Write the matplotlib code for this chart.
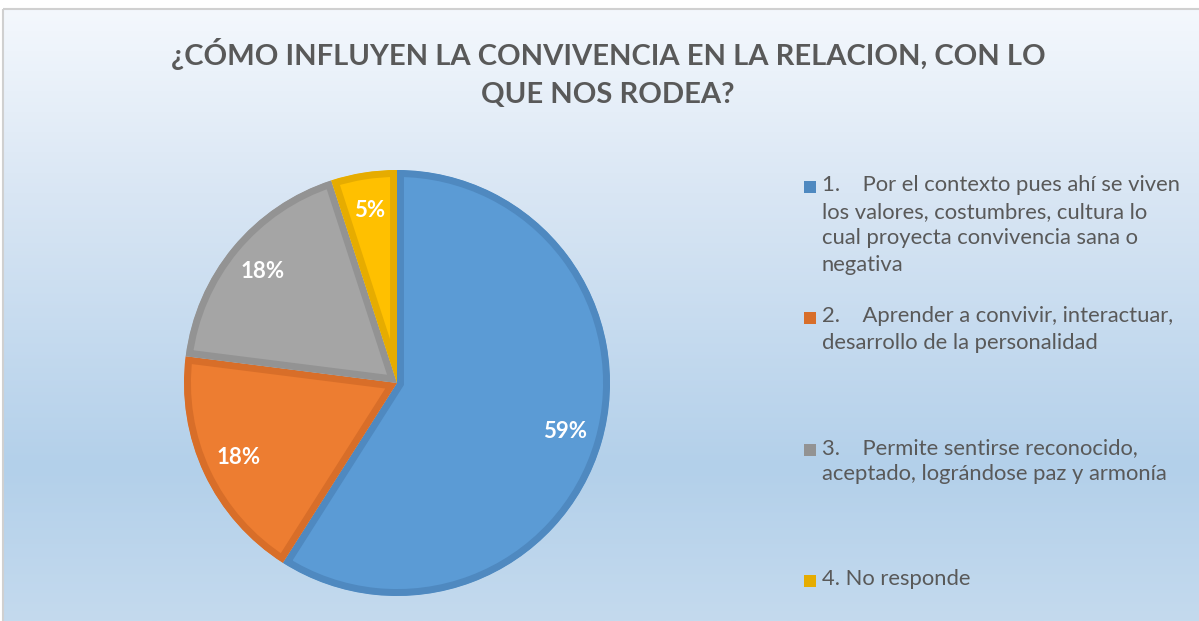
import numpy as np
import matplotlib.pyplot as plt
from matplotlib.colors import LinearSegmentedColormap
from matplotlib.patches import Rectangle

# datos
titulo = '¿CÓMO INFLUYEN LA CONVIVENCIA EN LA RELACION, CON LO\nQUE NOS RODEA?'
etiquetas = ['1.    Por el contexto pues ahí se viven\nlos valores, costumbres, cultura lo\ncual proyecta convivencia sana o\nnegativa',
             '2.    Aprender a convivir, interactuar,\ndesarrollo de la personalidad',
             '3.    Permite sentirse reconocido,\naceptado, lográndose paz y armonía',
             '4. No responde']
valores = [59, 18, 18, 5]
colores = ['#5B9BD5', '#ED7D31', '#A5A5A5', '#FFC000']
bordes = ['#4F89C0', '#D86E29', '#939393', '#E6AC00']

plt.rcParams['font.family'] = ['Lato', 'DejaVu Sans']

fig = plt.figure(figsize=(11.99, 6.21), dpi=100)
fig.patch.set_facecolor('white')

# fondo degradado
bg = fig.add_axes([0, 0, 1, 1], zorder=-10)
cmap = LinearSegmentedColormap.from_list('fondo', [(0.0, '#f4f8fd'), (0.3, '#d9e6f4'),
                                                   (0.75, '#b3d0ea'), (1.0, '#c4daee')])
grad = np.linspace(0, 1, 256).reshape(-1, 1)
bg.imshow(grad, aspect='auto', cmap=cmap, extent=(3, 1199, 621, 9))
bg.set_xlim(0, 1199)
bg.set_ylim(621, 0)
bg.add_patch(Rectangle((2.5, 9), 1300, 700, fill=False, edgecolor='#d0d0d0', linewidth=1.5))
bg.axis('off')

# titulo
fig.text(608 / 1199, 1 - 73 / 621, titulo, ha='center', va='center', fontsize=21,
         fontweight='bold', color='#595959', linespacing=1.6)

# pastel
ax = fig.add_axes([(397 - 213) / 1199, 1 - 596 / 621, 426 / 1199, 426 / 621])
wedges, textos, autotextos = ax.pie(valores, colors=colores, startangle=90, counterclock=False,
                                    radius=1, autopct='%1.0f%%', pctdistance=0.82,
                                    textprops=dict(color='white', fontsize=16, fontweight='bold'))
for w, b in zip(wedges, bordes):
    w.set_edgecolor(b)
    w.set_linewidth(10)
    w.set_clip_on(True)
    w.set_clip_path(w)
ax.set_xlim(-1, 1)
ax.set_ylim(-1, 1)
ax.set_aspect('equal')
ax.axis('off')

# leyenda
for i, (lab, c) in enumerate(zip(etiquetas, bordes)):
    y = 187 + i * 131.3
    fig.patches.append(Rectangle((804 / 1199, 1 - (y + 6) / 621), 12 / 1199, 12 / 621,
                                 transform=fig.transFigure, facecolor=c, edgecolor='none'))
    fig.text(822 / 1199, 1 - (y - 12) / 621, lab, ha='left', va='top', fontsize=15.8,
             color='#595959', linespacing=1.42)

fig.savefig('out.png', dpi=100)
